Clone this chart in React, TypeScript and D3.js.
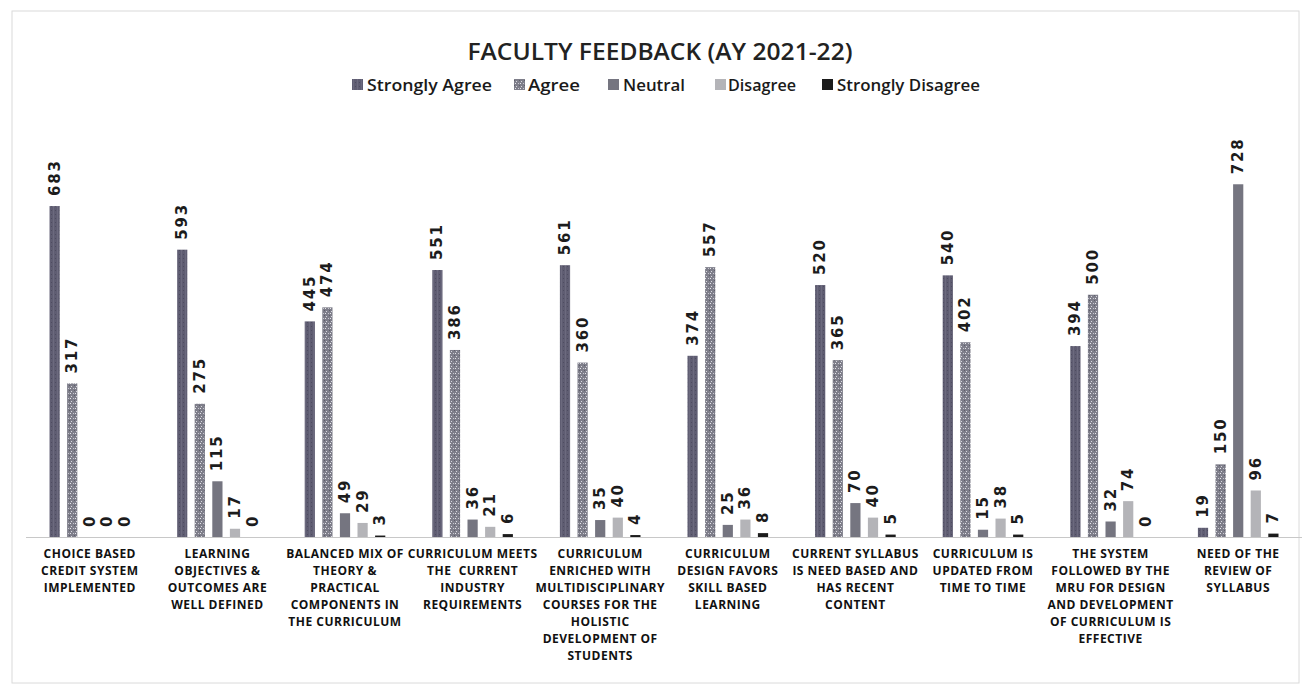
import React from "react";
import * as d3 from "d3";

const categories: string[][] = [
  ["CHOICE BASED", "CREDIT SYSTEM", "IMPLEMENTED"],
  ["LEARNING", "OBJECTIVES &", "OUTCOMES ARE", "WELL DEFINED"],
  ["BALANCED MIX OF", "THEORY &", "PRACTICAL", "COMPONENTS IN", "THE CURRICULUM"],
  ["CURRICULUM MEETS", "THE  CURRENT", "INDUSTRY", "REQUIREMENTS"],
  ["CURRICULUM", "ENRICHED WITH", "MULTIDISCIPLINARY", "COURSES FOR THE", "HOLISTIC", "DEVELOPMENT OF", "STUDENTS"],
  ["CURRICULUM", "DESIGN FAVORS", "SKILL BASED", "LEARNING"],
  ["CURRENT SYLLABUS", "IS NEED BASED AND", "HAS RECENT", "CONTENT"],
  ["CURRICULUM IS", "UPDATED FROM", "TIME TO TIME"],
  ["THE SYSTEM", "FOLLOWED BY THE", "MRU FOR DESIGN", "AND DEVELOPMENT", "OF CURRICULUM IS", "EFFECTIVE"],
  ["NEED OF THE", "REVIEW OF", "SYLLABUS"],
];

const seriesNames = ["Strongly Agree", "Agree", "Neutral", "Disagree", "Strongly Disagree"];
const stronglyAgree = [683, 593, 445, 551, 561, 374, 520, 540, 394, 19];
const agree = [317, 275, 474, 386, 360, 557, 365, 402, 500, 150];
const neutral = [0, 115, 49, 36, 35, 25, 70, 15, 32, 728];
const disagree = [0, 17, 29, 21, 40, 36, 40, 38, 74, 96];
const stronglyDisagree = [0, 0, 3, 6, 4, 8, 5, 5, 0, 7];
const seriesValues = [stronglyAgree, agree, neutral, disagree, stronglyDisagree];

const title = "FACULTY FEEDBACK (AY 2021-22)";

const fills = ["url(#patSA)", "url(#patAG)", "#757580", "#b4b4b8", "#1c1c1c"];

export default function App() {
  const W = 1304;
  const H = 690;
  const left = 26;
  const right = 1302;
  const baseY = 537;
  const topY = 130;

  const keys = categories.map((_, i) => String(i));
  const x0 = d3.scaleBand<string>().domain(keys).range([left, right]).padding(0);
  const groupW = 88;
  const x1 = d3
    .scaleBand<string>()
    .domain(seriesNames)
    .range([0, groupW])
    .paddingInner(0.42)
    .paddingOuter(0.21);
  const y = d3.scaleLinear().domain([0, 840]).range([baseY, topY]);

  const legendItems = [
    { marker: 352, text: 367, w: 125 },
    { marker: 514, text: 528, w: 52 },
    { marker: 608, text: 623, w: 62 },
    { marker: 715, text: 728, w: 68 },
    { marker: 822, text: 837, w: 143 },
  ];

  return (
    <svg
      width={W}
      height={H}
      style={{ position: "absolute", left: 0, top: 0, background: "#fff" }}
    >
      <defs>
        <pattern id="patSA" width="4" height="4" patternUnits="userSpaceOnUse">
          <rect width="4" height="4" fill="#5f5d72" />
          <rect x="1" y="0" width="1" height="4" fill="#6c6a7e" />
          <rect x="3" y="2" width="1" height="1" fill="#4e4c60" />
        </pattern>
        <pattern id="patAG" width="5" height="5" patternUnits="userSpaceOnUse">
          <rect width="5" height="5" fill="#7e7e8a" />
          <rect x="1" y="1" width="1" height="1" fill="#d8d8de" />
          <rect x="3" y="3" width="1" height="1" fill="#c8c8d0" />
          <rect x="4" y="0" width="1" height="1" fill="#5e5e6a" />
          <rect x="0" y="3" width="1" height="1" fill="#e6e6ea" />
        </pattern>
      </defs>

      <rect x={12} y={11} width={1287} height={672} fill="none" stroke="#dadada" strokeWidth={1} />

      <text
        x={660}
        y={60}
        textAnchor="middle"
        fontFamily="Open Sans, sans-serif"
        fontWeight={600}
        fontSize={23}
        fill="#222"
        textLength={385}
        lengthAdjust="spacingAndGlyphs"
      >
        {title}
      </text>

      {seriesNames.map((s, i) => (
        <g key={s}>
          <rect x={legendItems[i].marker} y={79} width={11} height={11} fill={fills[i]} />
          <text
            x={legendItems[i].text}
            y={91}
            fontFamily="Open Sans, sans-serif"
            fontWeight={600}
            fontSize={17}
            fill="#1a1a1a"
            textLength={legendItems[i].w}
            lengthAdjust="spacingAndGlyphs"
          >
            {s}
          </text>
        </g>
      ))}

      <line x1={left} x2={right} y1={baseY + 0.5} y2={baseY + 0.5} stroke="#c8c8c8" strokeWidth={1} />

      {categories.map((lines, ci) => {
        const gx = (x0(keys[ci]) as number) + (x0.bandwidth() - groupW) / 2;
        return (
          <g key={ci}>
            {seriesNames.map((s, si) => {
              const v = seriesValues[si][ci];
              const bx = gx + (x1(s) as number);
              const bw = x1.bandwidth();
              const ty = y(v);
              return (
                <g key={s}>
                  {v > 0 && (
                    <rect x={bx} y={ty} width={bw} height={baseY - ty} fill={fills[si]} />
                  )}
                  <text
                    transform={`translate(${bx + bw / 2},${ty - 10}) rotate(-90)`}
                    textAnchor="start"
                    dominantBaseline="central"
                    fontFamily="DejaVu Sans, sans-serif"
                    fontWeight={700}
                    fontSize={15}
                    letterSpacing={1.8}
                    fill="#1c1c1c"
                  >
                    {v}
                  </text>
                </g>
              );
            })}
            {lines.map((ln, li) => (
              <text
                key={li}
                x={(x0(keys[ci]) as number) + x0.bandwidth() / 2}
                y={558 + li * 17}
                textAnchor="middle"
                fontFamily="Open Sans, sans-serif"
                fontWeight={700}
                fontSize={12}
                letterSpacing={0.5}
                fill="#111"
                style={{ whiteSpace: "pre" }}
              >
                {ln}
              </text>
            ))}
          </g>
        );
      })}
    </svg>
  );
}
